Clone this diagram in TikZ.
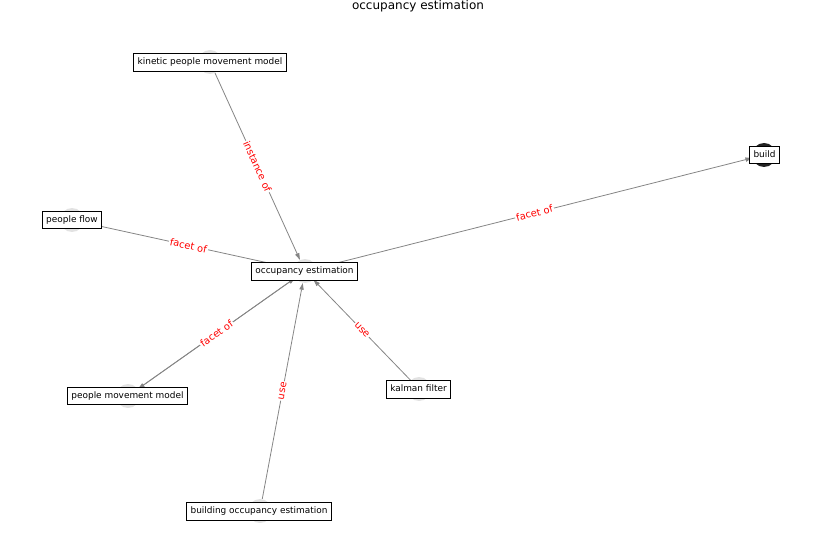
\documentclass[tikz,border=0pt]{standalone}
\usepackage{fontspec}
\setmainfont{DejaVu Sans}
\usetikzlibrary{arrows.meta}
\definecolor{edgegray}{HTML}{858585}
\definecolor{dotgray}{HTML}{E2E2E2}
\definecolor{dotdark}{HTML}{222222}
\newlength{\unitpx}
\setlength{\unitpx}{0.75pt}
\tikzset{
  dot/.style={circle, fill=dotgray, draw=none, minimum size=24\unitpx, inner sep=0pt},
  darkdot/.style={dot, fill=dotdark},
  tag/.style={draw=black, fill=white, line width=0.6pt, font=\fontsize{6.7pt}{8pt}\selectfont,
    inner xsep=3pt, inner ysep=0pt, minimum height=13pt, text height=5pt, text depth=1.4pt},
  rel/.style={draw=edgegray, line width=0.6pt, -{Triangle[length=5pt,width=3.2pt]}},
  rellabel/.style={text=red, fill=white, rounded corners=2pt, font=\fontsize{7.4pt}{8pt}\selectfont,
    inner sep=0.8pt, sloped, midway}
}
\begin{document}
\begin{tikzpicture}[x=0.75pt, y=-0.75pt]
  \useasboundingbox (0,0) rectangle (837,559);

  % title
  \node[font=\fontsize{9pt}{10pt}\selectfont] (title) at (418,6.5) {occupancy estimation};

  % node markers
  \node[dot] (occ) at (305,271) {};
  \node[dot] (kin) at (210,62) {};
  \node[dot] (pf) at (72,220) {};
  \node[darkdot] (build) at (764,155) {};
  \node[dot] (pmm) at (128,396) {};
  \node[dot] (kal) at (419,389) {};
  \node[dot] (boe) at (260,511) {};

  % relations
  \draw[rel] (kin) -- node[rellabel] {instance of} (occ);
  \draw[rel] (pf) -- node[rellabel] {facet of} (occ);
  \draw[rel] (occ) -- node[rellabel] {facet of} (build);
  \draw[rel] (occ) -- (pmm);
  \draw[rel] (pmm) -- node[rellabel] {facet of} (occ);
  \draw[rel] (kal) -- node[rellabel] {use} (occ);
  \draw[rel] (boe) -- node[rellabel] {use} (occ);

  % labels
  \node[tag] (occL) at (304.5,271.5) {occupancy estimation};
  \node[tag] (kinL) at (210,62.5) {kinetic people movement model};
  \node[tag] (pfL) at (72,220) {people flow};
  \node[tag] (buildL) at (764.5,155) {build};
  \node[tag] (pmmL) at (127.5,396) {people movement model};
  \node[tag] (kalL) at (418.5,389.5) {kalman filter};
  \node[tag] (boeL) at (259,511.5) {building occupancy estimation};
\end{tikzpicture}
\end{document}
